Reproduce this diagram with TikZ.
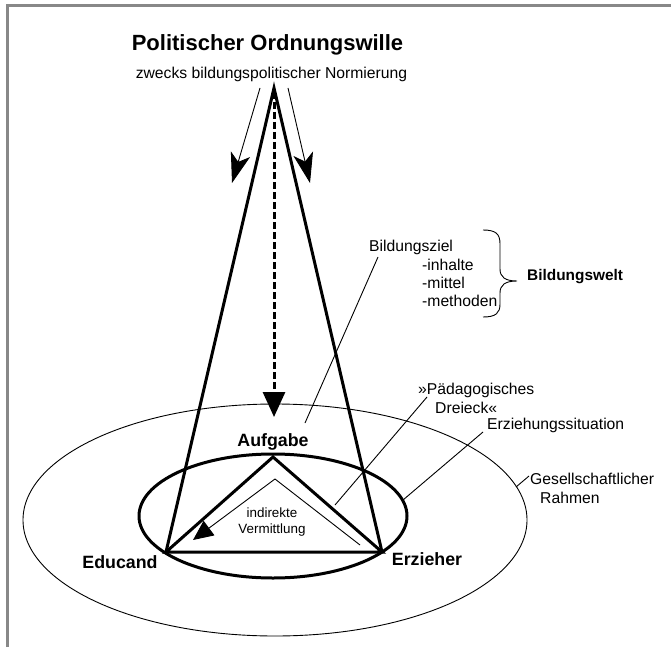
\documentclass[tikz,border=0pt]{standalone}
\usepackage{fontspec}
\setmainfont{Liberation Sans}
\usetikzlibrary{arrows.meta}
\definecolor{framegray}{RGB}{136,136,136}
\tikzset{
  thickline/.style={line width=3pt, line join=miter},
  thinline/.style={line width=0.9pt},
  lbl/.style={inner sep=0pt, font=\fontsize{15.7}{18}\selectfont},
  small/.style={inner sep=0pt, font=\fontsize{13.4}{16}\selectfont, align=center},
  boldlbl/.style={inner sep=0pt, font=\fontsize{17.8}{20}\selectfont\bfseries},
}
\begin{document}
\begin{tikzpicture}[x=1pt,y=-1pt]
\useasboundingbox (0,0) rectangle (671,647);
% frame
\draw[framegray, line width=3pt] (7.5,647) -- (7.5,6) -- (671,6);

% titles
\node[inner sep=0pt, anchor=base, font=\fontsize{22}{25}\selectfont\bfseries] (title) at (267.5,51) {Politischer Ordnungswille};
\node[lbl] (sub) at (271.5,74) {zwecks bildungspolitischer Normierung};

% key points
\coordinate (apex) at (274,88);
\coordinate (aufg) at (273,457);
\coordinate (edu) at (166,552);
\coordinate (erz) at (382,552);

% ellipses
\draw[thinline] (275,520) ellipse [x radius=252, y radius=116];
\draw[thickline] (273,516) ellipse [x radius=134, y radius=62];

% cone
\draw[thickline] (edu) -- (apex) -- (erz);
% triangle
\draw[thickline] (edu) -- (aufg) -- (erz) -- cycle;

% side arrows
\coordinate (la0) at (260,88);
\coordinate (la1) at (232,183);
\coordinate (ra0) at (288,88);
\coordinate (ra1) at (310,183);
\draw[thinline, -{Stealth[length=30pt,width=20pt,inset=8pt]}] (la0) -- (la1);
\draw[thinline, -{Stealth[length=30pt,width=20pt,inset=8pt]}] (ra0) -- (ra1);

% dashed arrow
\coordinate (dtip) at (274,417);
\draw[line width=3pt, dash pattern=on 7pt off 3pt, -{Triangle[length=25pt,width=22pt]}] (274,92) -- (dtip);

% labels
\node[boldlbl] (aufgabe) at (273,442) {Aufgabe};
\node[boldlbl] (educand) at (120,562) {Educand};
\node[boldlbl] (erzieher) at (427,559) {Erzieher};

\node[lbl, anchor=west] (bz) at (369,247) {Bildungsziel};
\node[lbl, anchor=west] (inh) at (422,265) {-inhalte};
\node[lbl, anchor=west] (mit) at (422,283) {-mittel};
\node[lbl, anchor=west] (met) at (422,301) {-methoden};
% brace
\draw[thinline] (483,230) .. controls (496,230) and (500,234) .. (500,244)
  -- (500,269) .. controls (500,277) and (505,281) .. (517,281)
  .. controls (505,281) and (500,285) .. (500,293)
  -- (500,304) .. controls (500,313) and (496,317) .. (483,317);
\node[inner sep=0pt, font=\fontsize{15.4}{18}\selectfont\bfseries, anchor=west] (bw) at (527,277) {Bildungswelt};

\node[lbl, anchor=west] (pd1) at (418,390) {»Pädagogisches};
\node[lbl, anchor=west] (pd2) at (435,408) {Dreieck«};
\node[lbl, anchor=west] (es) at (487,425) {Erziehungssituation};
\node[lbl, anchor=west] (gr1) at (530,479) {Gesellschaftlicher};
\node[lbl, anchor=west] (gr2) at (540,498) {Rahmen};

% leader lines
\coordinate (bzend) at (305,423);
\coordinate (pdend) at (335,505);
\coordinate (esend) at (403,500);
\coordinate (grend) at (516,487);
\draw[thinline] (378,257) -- (bzend);
\draw[thinline] (427,397) -- (pdend);
\draw[thinline] (483,432) -- (esend);
\draw[thinline] (529,476) -- (grend);

% indirect mediation
\coordinate (iv0) at (360,545);
\coordinate (iv1) at (275,479);
\coordinate (iv2) at (193,540);
\draw[thinline, -{Triangle[length=20pt,width=18pt]}] (iv0) -- (iv1) -- (iv2);
\node[small] (iv) at (272,522) {indirekte\\Vermittlung};
\end{tikzpicture}
\end{document}
